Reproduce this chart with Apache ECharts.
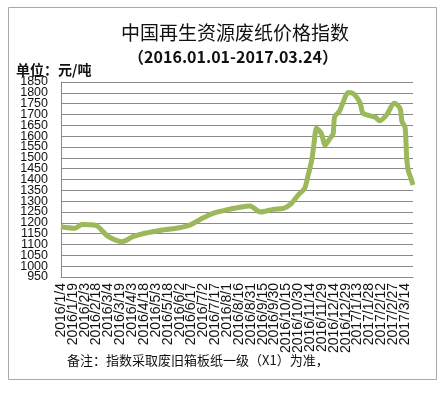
<!DOCTYPE html>
<html>
<head>
<meta charset="utf-8">
<script src="https://cdn.jsdelivr.net/npm/echarts@6/dist/echarts.min.js"></script>
<style>
html,body{margin:0;padding:0;background:#fff;}
#c{width:446px;height:395px;}
</style>
</head>
<body>
<div id="c"></div>
<script>
// Category range (daily dates)
var startDate = [2016, 1, 4];
var endDate = [2017, 3, 24];

// Read-off points of the index (date, yuan/ton)
var pointDates = [
  '2016/1/4','2016/1/22','2016/1/30','2016/2/17','2016/3/4','2016/3/21','2016/4/4','2016/4/19',
  '2016/5/8','2016/5/25','2016/6/11','2016/6/19','2016/6/30','2016/7/14','2016/7/31','2016/8/17',
  '2016/8/30','2016/9/12','2016/9/28','2016/10/11','2016/10/20','2016/10/30','2016/11/7','2016/11/11',
  '2016/11/16','2016/11/19','2016/11/22','2016/11/28','2016/12/3','2016/12/9','2016/12/13','2016/12/15',
  '2016/12/21','2016/12/26','2017/1/1','2017/1/8','2017/1/16','2017/1/20','2017/2/4','2017/2/10',
  '2017/2/19','2017/2/28','2017/3/4','2017/3/8','2017/3/10','2017/3/14','2017/3/16','2017/3/18',
  '2017/3/21','2017/3/24'
];
var pointValues = [
  1182,1175,1192,1188,1136,1113,1136,1152,
  1165,1173,1185,1197,1220,1244,1259,1272,
  1278,1250,1262,1267,1285,1329,1359,1413,
  1490,1570,1636,1613,1559,1590,1610,1690,
  1715,1760,1801,1795,1755,1705,1688,1671,
  1700,1752,1745,1725,1668,1640,1500,1440,
  1410,1375
];

var yMin = 950, yMax = 1850, yStep = 50;
var labelEveryDays = 15;

var titleText = '中国再生资源废纸价格指数';
var subtitleText = '（2016.01.01-2017.03.24）';
var unitText = '单位：元/吨';
var noteText = '备注：指数采取废旧箱板纸一级（X1）为准，';

// build categories
var categories = [];
(function(){
  var d = new Date(Date.UTC(startDate[0], startDate[1]-1, startDate[2]));
  var e = new Date(Date.UTC(endDate[0], endDate[1]-1, endDate[2]));
  while (d <= e) {
    categories.push(d.getUTCFullYear() + '/' + (d.getUTCMonth()+1) + '/' + d.getUTCDate());
    d = new Date(d.getTime() + 86400000);
  }
})();

var seriesData = pointDates.map(function(dt, i){ return [dt, pointValues[i]]; });

var axisColor = '#8a8a8a';
var textColor = '#111';
var numFont = 'Liberation Sans, Arial';

// two overlaid x axes, each carrying every other label so no label is dropped
function makeX(phase, main) {
  return {
    type: 'category',
    data: categories,
    boundaryGap: false,
    position: 'bottom',
    axisLine: {show: main, lineStyle: {color: axisColor, width: 1}},
    axisTick: {show: false},
    splitLine: {show: false},
    axisLabel: {
      interval: function(idx){ return idx % (2 * labelEveryDays) === phase * labelEveryDays; },
      rotate: 90, margin: 6, hideOverlap: false,
      fontFamily: numFont, fontSize: 14, color: textColor
    }
  };
}
// two overlaid y axes, each carrying every other label
function makeY(phase, main) {
  return {
    type: 'value',
    min: yMin, max: yMax, interval: yStep,
    position: 'left',
    axisLine: {show: main, lineStyle: {color: axisColor, width: 1}},
    axisTick: {show: false},
    splitLine: {show: main, lineStyle: {color: axisColor, width: 1}},
    axisLabel: {
      fontFamily: numFont, fontSize: 12.5, color: textColor, margin: 13,
      showMinLabel: main, showMaxLabel: main, hideOverlap: false,
      formatter: function(v){
        var k = Math.round((v - yMin) / yStep);
        return (k % 2 === phase) ? String(v) : '';
      }
    }
  };
}

var chart = echarts.init(document.getElementById('c'), null, {renderer: 'canvas'});
chart.setOption({
  animation: false,
  backgroundColor: '#fff',
  grid: {left: 61, right: 33, top: 82, bottom: 118, containLabel: false},
  xAxis: [makeX(0, true), makeX(1, false)],
  yAxis: [makeY(0, true), makeY(1, false)],
  series: [{
    type: 'line',
    xAxisIndex: 0, yAxisIndex: 0,
    data: seriesData,
    showSymbol: false,
    smooth: 0.25,
    lineStyle: {color: '#9bb85a', width: 5},
    itemStyle: {color: '#9bb85a'}
  }],
  graphic: [
    {type: 'rect', shape: {x: 8.5, y: 7.5, width: 428, height: 372}, style: {fill: null, stroke: '#a8a8a8', lineWidth: 1}, z: -1},
    {type: 'text', x: 235, y: 33, style: {text: titleText, fontFamily: 'Noto Sans CJK SC', fontSize: 19, fill: textColor, textAlign: 'center', textVerticalAlign: 'middle'}},
    {type: 'text', x: 233, y: 57, style: {text: subtitleText, fontFamily: 'Noto Sans CJK SC', fontWeight: 'bold', fontSize: 16, fill: textColor, textAlign: 'center', textVerticalAlign: 'middle'}},
    {type: 'text', x: 16, y: 70, style: {text: unitText, fontFamily: 'Noto Sans CJK SC', fontWeight: 'bold', fontSize: 14, fill: textColor, textAlign: 'left', textVerticalAlign: 'middle'}},
    {type: 'text', x: 67, y: 360, style: {text: noteText, fontFamily: 'Noto Sans CJK SC', fontSize: 13, fill: textColor, textAlign: 'left', textVerticalAlign: 'middle'}}
  ]
});
</script>
</body>
</html>
